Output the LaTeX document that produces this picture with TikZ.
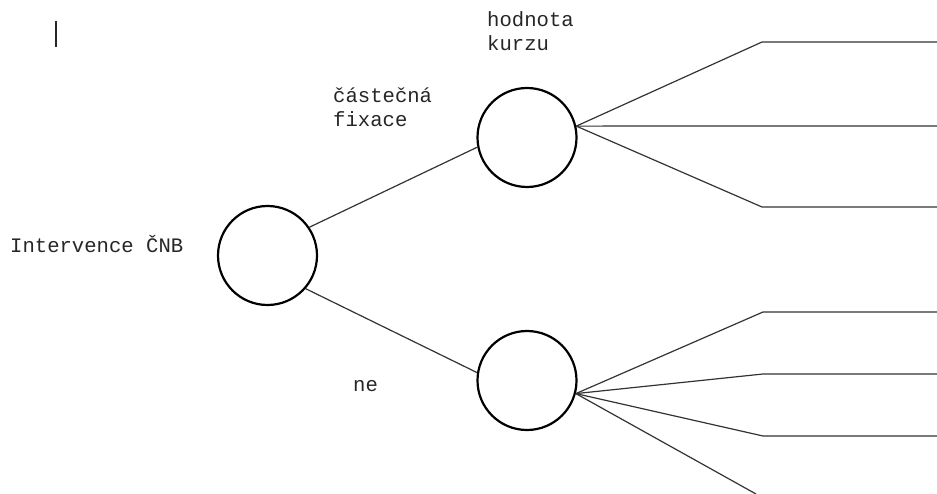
\documentclass[tikz,border=0pt]{standalone}
\usepackage{fontspec}
\setmonofont{Liberation Mono}
\begin{document}
\begin{tikzpicture}[x=1pt,y=-1pt,
    chance/.style={circle,draw=black,line width=2.2pt,minimum size=99pt,inner sep=0pt},
    branch/.style={draw=black!80,line width=1.2pt},
    label/.style={anchor=base west,inner sep=0pt,align=left,text=black!85,
                  font=\ttfamily\fontsize{20.6}{24}\selectfont}]
  \useasboundingbox (0,0) rectangle (937,494);

  % decision tree nodes
  \node[chance] (root) at (267.5,255.5) {};
  \node[chance] (up)   at (527,137.5) {};
  \node[chance] (low)  at (527,380.5) {};

  % labels (base anchor sits on the last line)
  \node[label] (tRoot) at (10,253) {Intervence ČNB};
  \node[label] (tFix)  at (333,127) {částečná\\fixace};
  \node[label] (tKurz) at (487,51) {hodnota\\kurzu};
  \node[label] (tNe)   at (353,391) {ne};

  % text cursor mark
  \coordinate (c1) at (56,21);
  \coordinate (c2) at (56,47);
  \draw[line width=1.2pt,black!85] (c1) -- (c2);

  % branches from the root
  \draw[branch] (root.34) -- (up.191);
  \draw[branch] (root.-41) -- (low.171);

  % outcome points
  \coordinate (u1) at (762,42);  \coordinate (u1e) at (937,42);
  \coordinate (u2) at (762,126); \coordinate (u2e) at (937,126);
  \coordinate (u3) at (762,207); \coordinate (u3e) at (937,207);
  \coordinate (l1) at (763,312); \coordinate (l1e) at (937,312);
  \coordinate (l2) at (763,374); \coordinate (l2e) at (937,374);
  \coordinate (l3) at (763,436); \coordinate (l3e) at (937,436);
  \coordinate (l4) at (756,494);

  % fan of the upper node
  \draw[branch] (up.13) -- (u1) -- (u1e);
  \draw[branch] (up.13) -- (u2) -- (u2e);
  \draw[branch] (up.13) -- (u3) -- (u3e);

  % fan of the lower node
  \draw[branch] (low.-15) -- (l1) -- (l1e);
  \draw[branch] (low.-15) -- (l2) -- (l2e);
  \draw[branch] (low.-15) -- (l3) -- (l3e);
  \draw[branch] (low.-15) -- (l4);
\end{tikzpicture}
\end{document}
